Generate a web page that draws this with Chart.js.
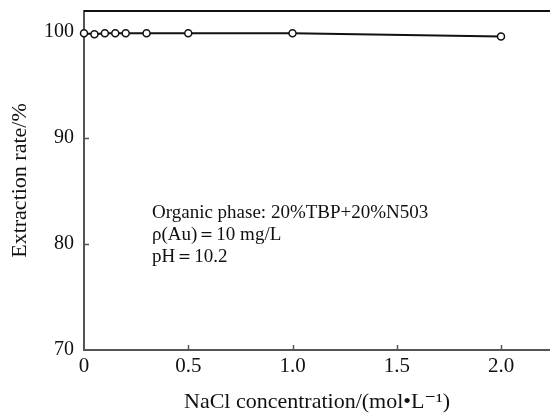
<!DOCTYPE html>
<html>
<head>
<meta charset="utf-8">
<script src="https://cdn.jsdelivr.net/npm/chart.js@4.4.0/dist/chart.umd.min.js"></script>
<style>
    html, body { margin: 0; padding: 0; background: #fff; }
    #wrap { width: 550px; height: 415px; position: relative; }
</style>
</head>
<body>
<div id="wrap"><canvas id="extractionChart"></canvas></div>
<script>
// NaCl concentration (mol/L) and extraction rate (%)
const naclConc = [0, 0.05, 0.1, 0.15, 0.2, 0.3, 0.5, 1.0, 2.0];
const extractionRate = [99.9, 99.8, 99.9, 99.9, 99.9, 99.9, 99.9, 99.9, 99.6];
const xTickValues = [0, 0.5, 1.0, 1.5, 2.0];
const yTickValues = [70, 80, 90, 100];
const noteLines = [
    'Organic phase: 20%TBP+20%N503',
    'ρ(Au)＝10 mg/L',
    'pH＝10.2',
];

const SERIF = '"Liberation Serif", "DejaVu Serif", serif';

// inward tick marks + top frame line + the condition note
const decorPlugin = {
    id: 'decor',
    afterDraw(chart) {
        const ctx = chart.ctx;
        const area = chart.chartArea;
        const xs = chart.scales.x, ys = chart.scales.y;
        ctx.save();
        ctx.strokeStyle = '#555';
        ctx.lineWidth = 1.5;
        ctx.beginPath();
        xTickValues.slice(1).forEach(v => {
            const px = Math.round(xs.getPixelForValue(v)) + 0.5;
            ctx.moveTo(px, area.bottom);
            ctx.lineTo(px, area.bottom - 5);
        });
        yTickValues.slice(1, -1).forEach(v => {
            const py = Math.round(ys.getPixelForValue(v)) + 0.5;
            ctx.moveTo(area.left, py);
            ctx.lineTo(area.left + 5, py);
        });
        ctx.stroke();

        ctx.strokeStyle = '#111';
        ctx.lineWidth = 2;
        ctx.beginPath();
        ctx.moveTo(area.left, area.top);
        ctx.lineTo(chart.width, area.top);
        ctx.stroke();

        ctx.fillStyle = '#111';
        ctx.font = '19px ' + SERIF;
        ctx.textBaseline = 'middle';
        noteLines.forEach((t, i) => {
            ctx.fillText(t, 152, 213 + i * 22);
        });
        ctx.restore();
    }
};

const ctx = document.getElementById('extractionChart').getContext('2d');
new Chart(ctx, {
    type: 'line',
    data: {
        datasets: [{
            data: naclConc.map((x, i) => ({ x, y: extractionRate[i] })),
            borderColor: '#111',
            borderWidth: 2,
            pointRadius: 3.5,
            pointBackgroundColor: '#fff',
            pointBorderColor: '#111',
            pointBorderWidth: 1.5,
            tension: 0,
            clip: false,
        }]
    },
    options: {
        responsive: true,
        maintainAspectRatio: false,
        animation: false,
        layout: { autoPadding: false, padding: { top: 11, right: 0, left: 0, bottom: 0 } },
        plugins: { legend: { display: false }, tooltip: { enabled: false } },
        scales: {
            x: {
                type: 'linear',
                min: 0,
                max: 2.235,
                afterBuildTicks: s => { s.ticks = xTickValues.map(v => ({ value: v })); },
                afterFit: s => { s.height = 65; s.paddingLeft = 0; s.paddingRight = 0; },
                grid: { display: false, drawTicks: false },
                border: { display: true, color: '#555', width: 2 },
                ticks: {
                    color: '#111',
                    padding: 4,
                    maxRotation: 0,
                    font: { family: SERIF, size: 21 },
                    callback: v => v === 0 ? '0' : v.toFixed(1),
                },
                title: {
                    display: true,
                    text: 'NaCl concentration/(mol•L⁻¹)',
                    color: '#111',
                    font: { family: SERIF, size: 22 },
                    padding: { top: 6, bottom: 0 },
                }
            },
            y: {
                min: 70,
                max: 102,
                afterBuildTicks: s => { s.ticks = yTickValues.map(v => ({ value: v })); },
                afterFit: s => { s.width = 84; s.paddingTop = 0; s.paddingBottom = 0; },
                grid: { display: false, drawTicks: false },
                border: { display: true, color: '#555', width: 2 },
                ticks: {
                    color: '#111',
                    padding: 10,
                    font: { family: SERIF, size: 20 },
                },
                title: {
                    display: true,
                    text: 'Extraction rate/%',
                    color: '#111',
                    font: { family: SERIF, size: 22 },
                    padding: { top: 7, bottom: 4 },
                }
            }
        }
    },
    plugins: [decorPlugin]
});
</script>
</body>
</html>
